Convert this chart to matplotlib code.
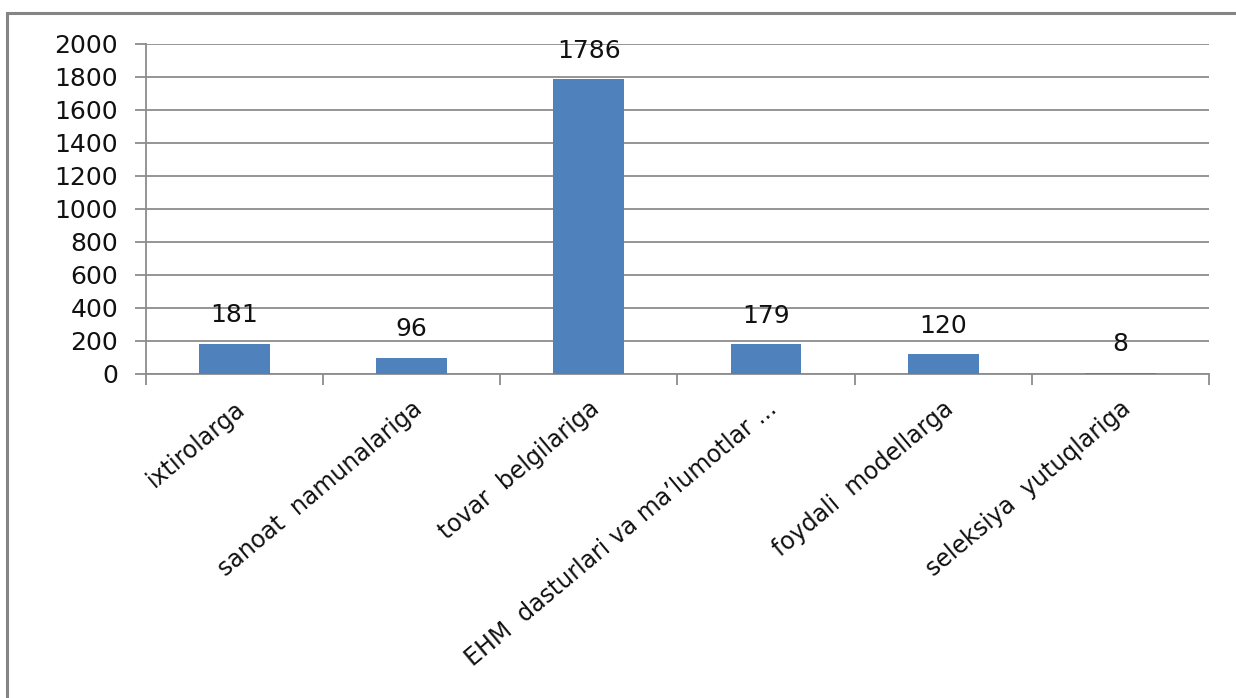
import matplotlib.pyplot as plt
from matplotlib.patches import Rectangle

categories = ['ixtirolarga', 'sanoat  namunalariga', 'tovar  belgilariga',
              'EHM  dasturlari va ma\u2019lumotlar ...', 'foydali  modellarga',
              'seleksiya  yutuqlariga']
values = [181, 96, 1786, 179, 120, 8]
yticks = list(range(0, 2001, 200))

plt.rcParams['font.family'] = ['DejaVu Sans']
grey = '#8c8c8c'

fig = plt.figure(figsize=(12.36, 6.98), dpi=100)
ax = fig.add_axes([0.1181, 0.4642, 0.978 - 0.1181, 0.937 - 0.4642])

x = list(range(len(categories)))
bars = ax.bar(x, values, width=0.4, color='#4F81BD', zorder=3)
for xi, v in zip(x, values):
    ax.annotate(str(v), (xi, v), xytext=(0, 12), textcoords='offset points',
                ha='center', va='bottom', fontsize=18, color='#111111')

ax.set_xlim(-0.5, len(categories) - 0.5)
ax.set_ylim(0, 2000)
ax.set_yticks(yticks)
ax.tick_params(axis='y', labelsize=18, length=8, width=1.3, color=grey,
               direction='out', pad=12, labelcolor='#111111')
ax.yaxis.grid(True, color=grey, linewidth=1.3, zorder=0)

ax.set_xticks(x)
ax.set_xticklabels(categories, rotation=40, ha='right', rotation_mode='anchor',
                   fontsize=17, color='#111111')
ax.tick_params(axis='x', length=0, pad=16)
ax.set_xticks([i + 0.5 for i in range(-1, len(categories))], minor=True)
ax.tick_params(axis='x', which='minor', length=8, width=1.3, color=grey)

for s in ['top', 'right']:
    ax.spines[s].set_visible(False)
for s in ['left', 'bottom']:
    ax.spines[s].set_color(grey)
    ax.spines[s].set_linewidth(1.3)

# outer chart frame
fig.patches.append(Rectangle((7 / 1236, -0.1), 1.2, 1 - 13 / 698 + 0.1,
                             transform=fig.transFigure, fill=False,
                             edgecolor='#858585', linewidth=2.2))

fig.savefig('out.png', dpi=100, facecolor='white')
